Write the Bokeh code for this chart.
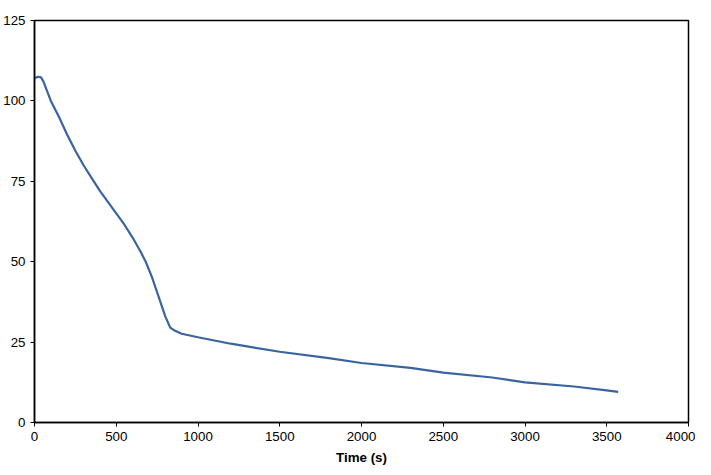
from bokeh.plotting import figure
from bokeh.embed import file_html
from bokeh.resources import INLINE
from bokeh.models import Range1d, FixedTicker

time_s = [0, 20, 40, 55, 70, 100, 150, 200, 250, 300, 350, 400, 450, 500, 550, 600, 650, 680, 720, 760, 800, 830, 860, 900, 1000, 1200, 1500, 1800, 2000, 2300, 2500, 2800, 3000, 3300, 3500, 3570]
value = [107, 107.5, 107.3, 106, 104, 100, 95, 89.5, 84.5, 80, 76, 72, 68.5, 65, 61.5, 57.5, 53, 50, 45, 39, 33, 29.5, 28.5, 27.6, 26.5, 24.5, 22, 20, 18.5, 17, 15.5, 14, 12.5, 11.2, 10, 9.5]

p = figure(width=695, height=467, output_backend="svg", toolbar_location=None,
           x_range=Range1d(0, 4000), y_range=Range1d(0, 125),
           min_border_left=33, min_border_right=7, min_border_top=12, min_border_bottom=42)
p.min_border_top = 20
p.line(time_s, value, line_color="#3a64a0", line_width=2.2)
p.xgrid.visible = False
p.ygrid.visible = False
p.outline_line_color = "black"
p.outline_line_width = 1.5
p.xaxis.ticker = FixedTicker(ticks=[0, 500, 1000, 1500, 2000, 2500, 3000, 3500, 4000])
p.yaxis.ticker = FixedTicker(ticks=[0, 25, 50, 75, 100, 125])
for ax in (p.xaxis[0], p.yaxis[0]):
    ax.major_label_text_font = "Liberation Sans"
    ax.major_label_text_font_size = "10pt"
    ax.major_label_text_color = "black"
    ax.minor_tick_line_color = None
    ax.major_tick_in = 0
    ax.major_tick_out = 4
    ax.axis_line_color = "black"
    ax.axis_line_width = 1.5
p.xaxis.axis_label = "Time (s)"
p.xaxis.axis_label_text_font = "Liberation Sans"
p.xaxis.axis_label_text_font_style = "bold"
p.xaxis.axis_label_text_font_size = "10pt"
p.xaxis.axis_label_text_color = "black"
p.xaxis.axis_label_standoff = 6
open("out.html", "w").write(file_html(p, INLINE))
